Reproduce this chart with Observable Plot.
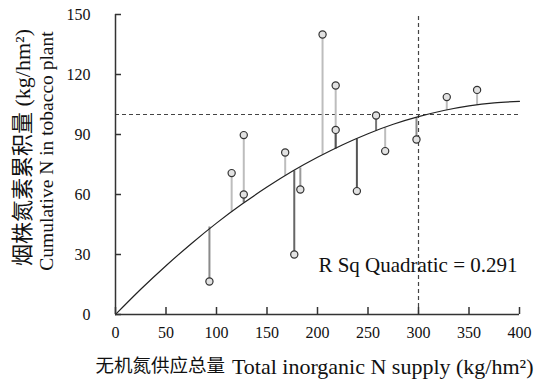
<!DOCTYPE html>
<html><head><meta charset="utf-8">
<script src="https://cdn.jsdelivr.net/npm/d3@7"></script>
<script src="https://cdn.jsdelivr.net/npm/@observablehq/plot@0.6"></script>
<style>
body{margin:0;background:#fff}
</style>
</head><body><div id="chart"></div>
<script>
// Observations: total inorganic N supply vs cumulative N in tobacco plant
const supply      = [93, 115, 127, 127, 168, 177, 183, 205, 218, 218, 239, 258, 267, 298, 328, 358];
const cumulativeN = [16.5, 70.7, 89.7, 60, 81, 30, 62.5, 140, 114.5, 92.3, 61.7, 99.5, 81.7, 87.5, 108.7, 112.3];
// fitted value (stem end on the quadratic curve) at each observation
const fitted      = [44, 51.5, 56, 56, 69.5, 72, 73.5, 80, 83, 83, 88, 92, 93.6, 98.7, 102.3, 104.9];
const stemShade   = ["#8a8a8a","#bdbdbd","#bdbdbd","#777777","#bdbdbd","#666666","#9a9a9a","#bdbdbd",
                     "#bdbdbd","#555555","#555555","#777777","#bdbdbd","#8a8a8a","#bdbdbd","#bdbdbd"];
// quadratic fit curve
const curveX = [0, 25, 50, 75, 100, 125, 150, 175, 200, 225, 250, 275, 300, 325, 350, 375, 400];
const curveY = [0, 12.6, 24.4, 35.4, 45.7, 55.1, 63.7, 71.6, 78.6, 84.9, 90.4, 95.1, 98.9, 102, 104.3, 105.8, 106.6];
// reference lines
const refX = [300];
const refY = [100];
// ticks and labels
const xTicks = [0, 50, 100, 150, 200, 250, 300, 350, 400];
const yTicks = [0, 30, 60, 90, 120, 150];
const xTitleZh = "无机氮供应总量";
const xTitleEn = "Total inorganic N supply (kg/hm²)";
const yTitleZh = "烟株氮素累积量 (kg/hm²)";
const yTitleEn = "Cumulative N in tobacco plant";
const rsqLabel = "R Sq Quadratic = 0.291";

const points = supply.map((x, i) => ({x, y: cumulativeN[i], fit: fitted[i], shade: stemShade[i]}));
const curve = curveX.map((x, i) => ({x, y: curveY[i]}));

const chart = Plot.plot({
  width: 541, height: 384,
  marginLeft: 115, marginRight: 22, marginTop: 14, marginBottom: 70,
  style: {background: "#fff", color: "#111", fontSize: "16px", fontFamily: "Liberation Serif, Noto Sans CJK SC, serif"},
  x: {domain: [0, 400]},
  y: {domain: [0, 150]},
  marks: [
    // reference dashed lines
    Plot.ruleY(refY, {x1: 0, x2: 400, stroke: "#444", strokeWidth: 1.2, strokeDasharray: "4,3"}),
    Plot.ruleX(refX, {y1: 0, y2: 150, stroke: "#444", strokeWidth: 1.2, strokeDasharray: "4,3"}),
    // residual stems
    Plot.link(points, {x1: "x", x2: "x", y1: "y", y2: "fit", stroke: "shade", strokeWidth: 2}),
    // fitted curve
    Plot.line(curve, {x: "x", y: "y", stroke: "#222", strokeWidth: 1.2, curve: "natural"}),
    // observation circles
    Plot.dot(points, {x: "x", y: "y", r: 3.6, fill: "#e2e2e2", stroke: "#333", strokeWidth: 1.2}),
    // axes lines
    Plot.ruleX([0], {y1: 0, y2: 150, stroke: "#333", strokeWidth: 1.5}),
    Plot.ruleY([0], {x1: 0, x2: 400, stroke: "#333", strokeWidth: 1.5}),
    // inward ticks
    Plot.axisX({ticks: xTicks, tickSize: 7, dy: -7, text: null, label: null, stroke: "#333", strokeWidth: 1.5}),
    Plot.axisY({ticks: yTicks, tickSize: 6, dx: 6, text: null, label: null, stroke: "#333", strokeWidth: 1.5}),
    // tick labels
    Plot.axisX({ticks: xTicks, tickSize: 0, tickPadding: 12, label: null, fontSize: 16, fill: "#111"}),
    Plot.axisY({ticks: yTicks, tickSize: 0, tickPadding: 25, label: null, fontSize: 16, fill: "#111"}),
    // x title
    Plot.text([xTitleZh], {frameAnchor: "bottom-left", textAnchor: "start", dx: -20, dy: 52, lineAnchor: "middle", fontSize: 18.5, fill: "#111"}),
    Plot.text([xTitleEn], {frameAnchor: "bottom-right", textAnchor: "end", dx: 14, dy: 52, lineAnchor: "middle", fontSize: 22, fill: "#111"}),
    // y title
    Plot.text([yTitleZh], {frameAnchor: "left", textAnchor: "middle", rotate: -90, dx: -93, dy: -17, lineAnchor: "middle", fontSize: 22, fill: "#111"}),
    Plot.text([yTitleEn], {frameAnchor: "left", textAnchor: "middle", rotate: -90, dx: -68.5, dy: -13.5, lineAnchor: "middle", fontSize: 19.5, fill: "#111"}),
    // annotation
    Plot.text([rsqLabel], {frameAnchor: "bottom-right", textAnchor: "end", lineAnchor: "middle", dx: -2, dy: -49, fontSize: 21, fill: "#111"})
  ]
});
document.getElementById("chart").appendChild(chart);
</script>
</body></html>
